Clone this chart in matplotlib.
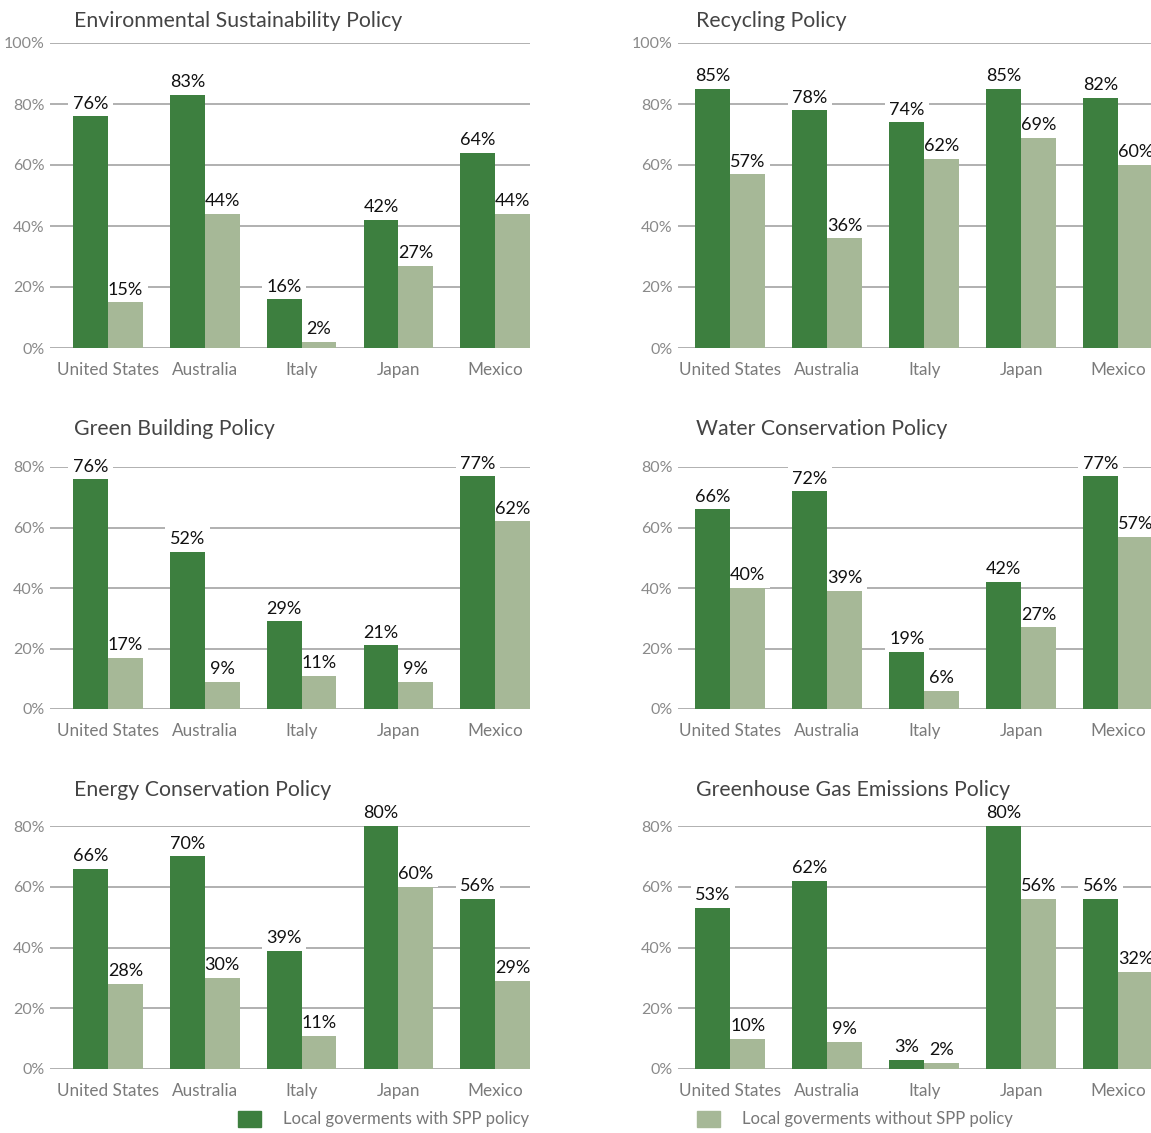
import matplotlib.pyplot as plt
import numpy as np
from matplotlib.patches import Patch

plt.rcParams['font.family'] = ['Lato', 'DejaVu Sans']

# data
countries = ['United States', 'Australia', 'Italy', 'Japan', 'Mexico']
titles = ['Environmental Sustainability Policy', 'Recycling Policy',
          'Green Building Policy', 'Water Conservation Policy',
          'Energy Conservation Policy', 'Greenhouse Gas Emissions Policy']
with_spp = [
    [76, 83, 16, 42, 64],
    [85, 78, 74, 85, 82],
    [76, 52, 29, 21, 77],
    [66, 72, 19, 42, 77],
    [66, 70, 39, 80, 56],
    [53, 62, 3, 80, 56],
]
without_spp = [
    [15, 44, 2, 27, 44],
    [57, 36, 62, 69, 60],
    [17, 9, 11, 9, 62],
    [40, 39, 6, 27, 57],
    [28, 30, 11, 60, 29],
    [10, 9, 2, 56, 32],
]
y_max = [100, 100, 80, 80, 80, 80]
legend_labels = ['Local goverments with SPP policy', 'Local goverments without SPP policy']

dark = '#3d7f3f'
light = '#a6b897'
grid_col = '#a3a3a3'

W, H = 1151, 1133
fig = plt.figure(figsize=(W / 100, H / 100), dpi=100)

# pixel layout: (left, right, xlim) per column, (y of 0, y of top tick, title y) per row
cols = [(50, 530, (-0.60, 4.36)), (678, 1151, (-0.54, 4.34))]
rows = [(348, 43, 21), (709, 467, 429), (1069, 826, 790)]
title_x = [74, 696]
bw = 0.36

for i in range(6):
    r, c = i // 2, i % 2
    x0, x1, xl = cols[c]
    y0, y1, ty = rows[r]
    ax = fig.add_axes([x0 / W, 1 - y0 / H, (x1 - x0) / W, (y0 - y1) / H])
    x = np.arange(len(countries))
    ax.bar(x - bw / 2, with_spp[i], bw, color=dark, zorder=3)
    ax.bar(x + bw / 2, without_spp[i], bw, color=light, zorder=3)
    for xi, v in zip(x, with_spp[i]):
        ax.text(xi - bw / 2, v + 1.5, f'{v}%', ha='center', va='bottom', fontsize=13,
                color='#111111', zorder=2, clip_on=False,
                bbox=dict(boxstyle='square,pad=0.25', fc='white', ec='none'))
    for xi, v in zip(x, without_spp[i]):
        ax.text(xi + bw / 2, v + 1.5, f'{v}%', ha='center', va='bottom', fontsize=13,
                color='#111111', zorder=2, clip_on=False,
                bbox=dict(boxstyle='square,pad=0.25', fc='white', ec='none'))
    ax.set_xlim(*xl)
    ax.set_ylim(0, y_max[i])
    ax.set_yticks(range(0, y_max[i] + 1, 20))
    ax.set_yticklabels([f'{t}%' for t in range(0, y_max[i] + 1, 20)])
    ax.set_xticks(x)
    ax.set_xticklabels(countries)
    ax.tick_params(axis='y', length=0, pad=4, labelsize=11.5, labelcolor='#8a8a8a')
    ax.tick_params(axis='x', length=0, pad=10, labelsize=12.3, labelcolor='#7a7a7a')
    ax.grid(axis='y', color=grid_col, lw=1.2)
    ax.set_axisbelow(True)
    for s in ax.spines.values():
        s.set_visible(False)
    ax.patch.set_alpha(0)
    fig.text(title_x[c] / W, 1 - ty / H, titles[i], fontsize=15.3, color='#444444',
             ha='left', va='center')

fig.legend(handles=[Patch(color=dark, label=legend_labels[0])], loc='center left',
           bbox_to_anchor=(238 / W, 1 - 1119 / H), frameon=False, fontsize=12,
           borderpad=0, borderaxespad=0, handlelength=1.4, handleheight=1.15,
           handletextpad=1.3, labelcolor='#777777')
fig.legend(handles=[Patch(color=light, label=legend_labels[1])], loc='center left',
           bbox_to_anchor=(697 / W, 1 - 1119 / H), frameon=False, fontsize=12,
           borderpad=0, borderaxespad=0, handlelength=1.4, handleheight=1.15,
           handletextpad=1.3, labelcolor='#777777')

plt.savefig('out.png', dpi=100)
